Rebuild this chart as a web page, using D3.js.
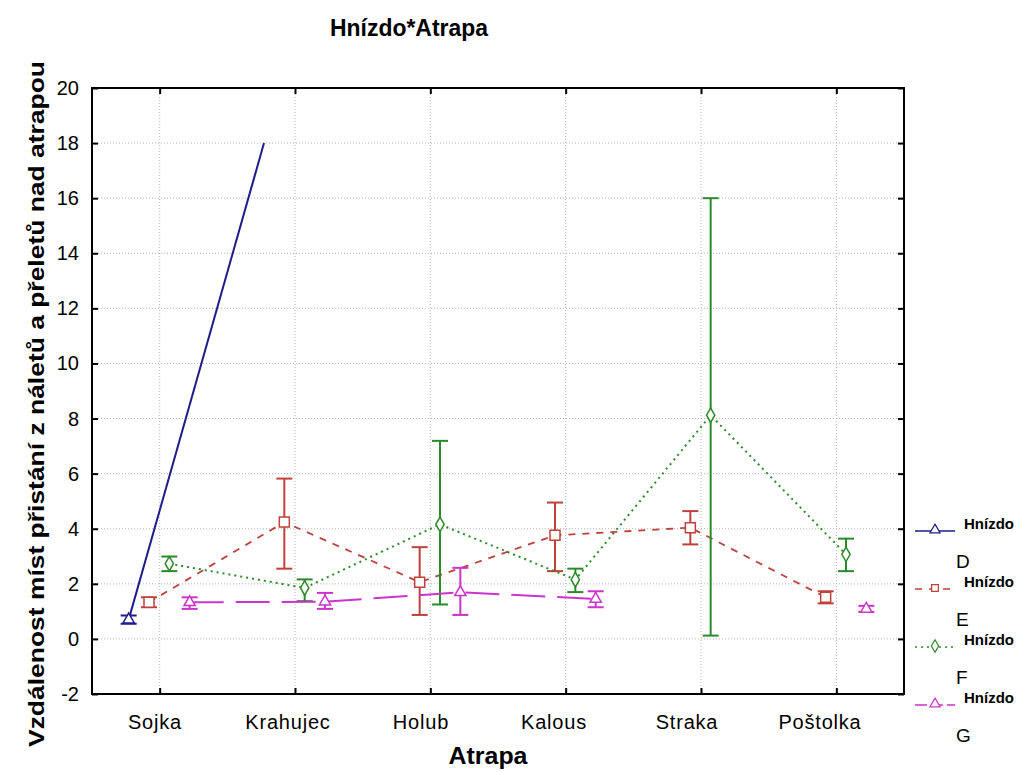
<!doctype html>
<html>
<head>
    <meta charset="UTF-8">
    <title>Hnízdo*Atrapa</title>
    <script src="https://d3js.org/d3.v7.min.js"></script>
    <style>
        body { margin: 0; background: #fff; }
        text { font-family: "Liberation Sans", Arial, sans-serif; }
    </style>
</head>
<body>
<script>
    // data
    var atrapa = ["Sojka", "Krahujec", "Holub", "Kalous", "Straka", "Poštolka"];
    var hnizdo = ["D", "E", "F", "G"];
    var yTicks = [-2, 0, 2, 4, 6, 8, 10, 12, 14, 16, 18, 20];

    var meanD = [0.7, 18, null, null, null, null];
    var lowD = [0.55, null, null, null, null, null];
    var highD = [0.85, null, null, null, null, null];

    var meanE = [1.33, 4.24, 2.06, 3.76, 4.04, 1.51];
    var lowE = [1.15, 2.55, 0.87, 2.46, 3.43, 1.29];
    var highE = [1.51, 5.82, 3.33, 4.95, 4.64, 1.73];

    var meanF = [2.73, 1.85, 4.16, 2.15, 8.12, 3.07];
    var lowF = [2.46, 1.37, 1.25, 1.70, 0.12, 2.46];
    var highF = [2.99, 2.16, 7.19, 2.55, 16.0, 3.64];

    var meanG = [1.33, 1.35, 1.69, 1.45, null, 1.09];
    var lowG = [1.09, 1.09, 0.87, 1.15, null, 0.98];
    var highG = [1.51, 1.67, 2.58, 1.73, null, 1.20];

    var W = 1021, H = 772;
    var pLeft = 92, pRight = 904, pTop = 88, pBottom = 694;

    var styles = {
        D: { color: "#1c1c8a", dash: null, width: 2, symbol: d3.symbolTriangle, size: 55 },
        E: { color: "#c0403a", dash: "7,7", width: 1.8, symbol: d3.symbolSquare, size: 100 },
        F: { color: "#2a8a2a", dash: "2,4", width: 2, symbol: d3.symbolDiamond, size: 60 },
        G: { color: "#cc33cc", dash: "34,12", width: 2, symbol: d3.symbolTriangle, size: 55 }
    };

    var series = [
        { name: "D", mean: meanD, low: lowD, high: highD },
        { name: "E", mean: meanE, low: lowE, high: highE },
        { name: "F", mean: meanF, low: lowF, high: highF },
        { name: "G", mean: meanG, low: lowG, high: highG }
    ].map(function (s) {
        s.points = atrapa.map(function (a, i) {
            return { cat: a, v: s.mean[i], lo: s.low[i], hi: s.high[i] };
        });
        return s;
    });

    var x = d3.scalePoint().domain(atrapa).range([pLeft, pRight]).padding(0.5);
    var xLabel = d3.scalePoint().domain(atrapa).range([155, 820]);
    var off = d3.scalePoint().domain(hnizdo).range([-31, 30]);
    var y = d3.scaleLinear().domain([-2, 20]).range([pBottom, pTop]);

    var svg = d3.select("body").append("svg")
        .attr("width", W).attr("height", H);

    svg.append("defs").append("clipPath").attr("id", "plot")
        .append("rect")
        .attr("x", pLeft).attr("y", pTop)
        .attr("width", pRight - pLeft).attr("height", pBottom - pTop);

    // grid
    var grid = svg.append("g").attr("stroke", "#b4b4b4").attr("stroke-dasharray", "1,2");
    grid.selectAll("line.h").data(yTicks.filter(function (t) { return t > -2 && t < 20; }))
        .enter().append("line")
        .attr("x1", pLeft).attr("x2", pRight)
        .attr("y1", function (d) { return y(d); })
        .attr("y2", function (d) { return y(d); });
    grid.selectAll("line.v").data(atrapa)
        .enter().append("line")
        .attr("y1", pTop).attr("y2", pBottom)
        .attr("x1", function (d) { return x(d); })
        .attr("x2", function (d) { return x(d); });

    // axes (ticks inside the frame on all four sides)
    function thick(g) { g.select(".domain").remove(); g.selectAll("line").attr("stroke-width", 2); }
    svg.append("g").attr("transform", "translate(" + pLeft + ",0)")
        .call(d3.axisRight(y).tickValues(yTicks).tickSize(6).tickFormat(""))
        .call(thick);
    svg.append("g").attr("transform", "translate(" + pRight + ",0)")
        .call(d3.axisLeft(y).tickValues(yTicks).tickSize(6).tickFormat(""))
        .call(thick);
    svg.append("g").attr("transform", "translate(0," + pBottom + ")")
        .call(d3.axisTop(x).tickSize(6).tickFormat(""))
        .call(thick);
    svg.append("g").attr("transform", "translate(0," + pTop + ")")
        .call(d3.axisBottom(x).tickSize(6).tickFormat(""))
        .call(thick);

    svg.append("rect")
        .attr("x", pLeft).attr("y", pTop)
        .attr("width", pRight - pLeft).attr("height", pBottom - pTop)
        .attr("fill", "none").attr("stroke", "#000").attr("stroke-width", 2);

    // tick labels
    svg.append("g").selectAll("text").data(yTicks)
        .enter().append("text")
        .attr("x", 79)
        .attr("y", function (d) { return y(d) + 7; })
        .attr("text-anchor", "end")
        .attr("font-size", 20)
        .text(function (d) { return d; });

    svg.append("g").selectAll("text").data(atrapa)
        .enter().append("text")
        .attr("x", function (d) { return xLabel(d); })
        .attr("y", 729)
        .attr("text-anchor", "middle")
        .attr("font-size", 20)
        .attr("letter-spacing", 0.8)
        .text(function (d) { return d; });

    // series
    var plot = svg.append("g").attr("clip-path", "url(#plot)");
    var line = d3.line()
        .defined(function (d) { return d.v != null; })
        .x(function (d) { return x(d.cat); })
        .y(function (d) { return y(d.v); });

    series.forEach(function (s) {
        var st = styles[s.name];
        var g = plot.append("g").attr("transform", "translate(" + off(s.name) + ",0)");
        g.append("path")
            .datum(s.points)
            .attr("d", line)
            .attr("fill", "none")
            .attr("stroke", st.color)
            .attr("stroke-width", st.width)
            .attr("stroke-dasharray", st.dash);

        var bars = s.points.filter(function (d) { return d.v != null && d.lo != null; });
        var eb = g.selectAll("g.eb").data(bars).enter().append("g")
            .attr("stroke", st.color).attr("stroke-width", 2);
        eb.append("line")
            .attr("x1", function (d) { return x(d.cat); })
            .attr("x2", function (d) { return x(d.cat); })
            .attr("y1", function (d) { return y(d.lo); })
            .attr("y2", function (d) { return y(d.hi); });
        eb.append("line")
            .attr("x1", function (d) { return x(d.cat) - 8; })
            .attr("x2", function (d) { return x(d.cat) + 8; })
            .attr("y1", function (d) { return y(d.lo); })
            .attr("y2", function (d) { return y(d.lo); });
        eb.append("line")
            .attr("x1", function (d) { return x(d.cat) - 8; })
            .attr("x2", function (d) { return x(d.cat) + 8; })
            .attr("y1", function (d) { return y(d.hi); })
            .attr("y2", function (d) { return y(d.hi); });

        g.selectAll("path.m").data(bars).enter().append("path")
            .attr("transform", function (d) { return "translate(" + x(d.cat) + "," + y(d.v) + ")"; })
            .attr("d", d3.symbol().type(st.symbol).size(st.size))
            .attr("fill", "#fff")
            .attr("stroke", st.color)
            .attr("stroke-width", 1.5);
    });

    // legend
    var leg = svg.append("g").selectAll("g").data(hnizdo)
        .enter().append("g")
        .attr("transform", function (d, i) { return "translate(0," + (524 + i * 58) + ")"; });
    leg.append("line")
        .attr("x1", 915).attr("x2", 955).attr("y1", 7).attr("y2", 7)
        .attr("stroke", function (d) { return styles[d].color; })
        .attr("stroke-width", 1.5)
        .attr("stroke-dasharray", function (d) { return d === "G" ? "12,4" : styles[d].dash; });
    leg.append("path")
        .attr("transform", "translate(935,6)")
        .attr("d", function (d) { return d3.symbol().type(styles[d].symbol).size(45)(); })
        .attr("fill", "#fff")
        .attr("stroke", function (d) { return styles[d].color; })
        .attr("stroke-width", 1.2);
    leg.append("text")
        .attr("x", 964).attr("y", 5)
        .attr("font-size", 14).attr("font-weight", "bold")
        .attr("textLength", 50).attr("lengthAdjust", "spacingAndGlyphs")
        .text("Hnízdo");
    leg.append("text")
        .attr("x", 956).attr("y", 44)
        .attr("font-size", 19)
        .text(function (d) { return d; });

    // titles
    svg.append("text")
        .attr("x", 409).attr("y", 36)
        .attr("text-anchor", "middle")
        .attr("font-size", 23).attr("font-weight", "bold")
        .attr("textLength", 158).attr("lengthAdjust", "spacingAndGlyphs")
        .text("Hnízdo*Atrapa");

    svg.append("text")
        .attr("x", 488).attr("y", 764)
        .attr("text-anchor", "middle")
        .attr("font-size", 23).attr("font-weight", "bold")
        .attr("textLength", 79).attr("lengthAdjust", "spacingAndGlyphs")
        .text("Atrapa");

    svg.append("text")
        .attr("transform", "translate(44,404) rotate(-90)")
        .attr("text-anchor", "middle")
        .attr("font-size", 22).attr("font-weight", "bold")
        .attr("textLength", 686).attr("lengthAdjust", "spacingAndGlyphs")
        .text("Vzdálenost míst přistání z náletů a přeletů nad atrapou");
</script>
</body>
</html>
